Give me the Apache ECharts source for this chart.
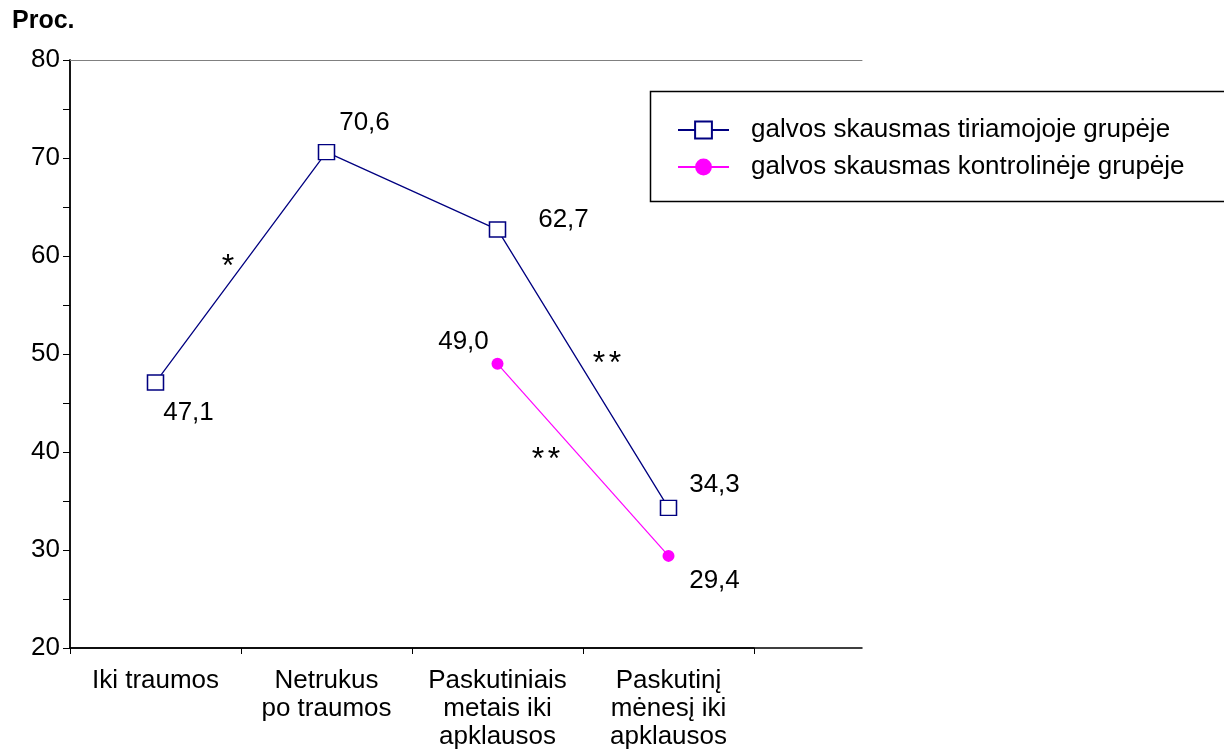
<!DOCTYPE html>
<html>
<head>
<meta charset="utf-8">
<script src="https://cdn.jsdelivr.net/npm/echarts@6.0.0/dist/echarts.min.js"></script>
<style>
  html, body { margin: 0; padding: 0; background: #fff; }
  #chart { width: 1224px; height: 751px; }
</style>
</head>
<body>
<div id="chart"></div>
<script>
// data
const categories = [
  'Iki traumos',
  'Netrukus\npo traumos',
  'Paskutiniais\nmetais iki\napklausos',
  'Paskutinį\nmėnesį iki\napklausos'
]
const studyGroup = [47.1, 70.6, 62.7, 34.3]
const controlGroup = [null, null, 49.0, 29.4]
const seriesNames = [
  'galvos skausmas tiriamojoje grupėje',
  'galvos skausmas kontrolinėje grupėje'
]
const yMin = 20
const yMax = 80
const yStep = 10
const yAxisTitle = 'Proc.'

const FONT = '"Liberation Sans", Arial, sans-serif'
const NAVY = '#000080'
const MAGENTA = '#ff00ff'
const FS = 26

// label placement around each point
const studyOffsets = [[33, 30], [38, -29], [66, -10], [46, -23]]
const controlOffsets = [null, null, [-34, -22], [46, 25]]

const fmt = v => v.toFixed(1).replace('.', ',')

function withLabels(values, offsets) {
  return values.map((v, i) => {
    if (v === null) return '-'
    return {
      value: v,
      label: { offset: offsets[i] }
    }
  })
}

// significance marks (annotations)
function star(x, y) {
  return {
    type: 'text', x: x, y: y, z: 5,
    style: { text: '*', font: '32px ' + FONT, fill: '#000', align: 'center', verticalAlign: 'middle' }
  }
}

const chart = echarts.init(document.getElementById('chart'))

const hiddenAxis = {
  axisLabel: { show: false },
  axisTick: { show: false },
  splitLine: { show: false }
}

const option = {
  animation: false,
  backgroundColor: '#fff',
  title: {
    text: yAxisTitle,
    left: 7,
    top: 4,
    textStyle: { fontFamily: FONT, fontSize: 25, fontWeight: 'bold', color: '#000' }
  },
  grid: [
    { left: 70, right: 470, top: 60, bottom: 103 },
    { left: 70, right: 362, top: 60, bottom: 103 }
  ],
  xAxis: [
    {
      type: 'category',
      gridIndex: 0,
      data: categories,
      boundaryGap: true,
      axisLine: { show: true, lineStyle: { color: '#000', width: 1.5 } },
      axisTick: { show: true, length: 6, lineStyle: { color: '#000' } },
      axisLabel: {
        interval: 0,
        margin: 19,
        fontFamily: FONT,
        fontSize: FS,
        lineHeight: 28,
        color: '#000',
        align: 'center'
      }
    },
    {
      type: 'value',
      gridIndex: 1,
      min: 0,
      max: 1,
      position: 'bottom',
      axisLine: { show: true, lineStyle: { color: '#000', width: 1.5 } },
      ...hiddenAxis
    },
    {
      type: 'value',
      gridIndex: 1,
      min: 0,
      max: 1,
      position: 'top',
      axisLine: { show: true, lineStyle: { color: '#808080', width: 1 } },
      ...hiddenAxis
    }
  ],
  yAxis: [
    {
      type: 'value',
      gridIndex: 0,
      min: yMin,
      max: yMax,
      interval: yStep,
      axisLine: { show: true, lineStyle: { color: '#222', width: 1.5 } },
      axisTick: { show: true, length: 7, lineStyle: { color: '#000' } },
      minorTick: { show: true, splitNumber: 2, length: 7, lineStyle: { color: '#000' } },
      splitLine: { show: false },
      axisLabel: { margin: 10, fontFamily: FONT, fontSize: FS, color: '#000' }
    },
    {
      type: 'value',
      gridIndex: 1,
      min: 0,
      max: 1,
      position: 'right',
      axisLine: { show: true, lineStyle: { color: '#000', width: 1.5 } },
      ...hiddenAxis
    }
  ],
  legend: {
    orient: 'vertical',
    left: 672,
    top: 112,
    itemWidth: 51,
    itemHeight: 21,
    itemGap: 11,
    z: 20,
    data: seriesNames,
    textStyle: {
      fontFamily: FONT,
      fontSize: FS,
      color: '#000',
      padding: [0, 0, 0, 17]
    }
  },
  graphic: [
    {
      type: 'rect',
      z: 10,
      shape: { x: 650.5, y: 91.5, width: 700, height: 110 },
      style: { fill: '#fff', stroke: '#000', lineWidth: 1.5 }
    },
    star(228, 267),
    star(599, 364),
    star(615, 364),
    star(538, 460),
    star(554, 460)
  ],
  series: [
    {
      name: seriesNames[0],
      type: 'line',
      xAxisIndex: 0,
      yAxisIndex: 0,
      data: withLabels(studyGroup, studyOffsets),
      symbol: 'rect',
      symbolSize: [16, 15],
      lineStyle: { color: NAVY, width: 1.3 },
      itemStyle: { color: '#fff', borderColor: NAVY, borderWidth: 1.5 },
      label: {
        show: true,
        position: 'inside',
        formatter: p => fmt(p.value),
        fontFamily: FONT,
        fontSize: FS,
        color: '#000'
      }
    },
    {
      name: seriesNames[1],
      type: 'line',
      xAxisIndex: 0,
      yAxisIndex: 0,
      data: withLabels(controlGroup, controlOffsets),
      symbol: 'circle',
      symbolSize: 12,
      lineStyle: { color: MAGENTA, width: 1.2 },
      itemStyle: { color: MAGENTA, borderColor: MAGENTA, borderWidth: 0 },
      label: {
        show: true,
        position: 'inside',
        formatter: p => fmt(p.value),
        fontFamily: FONT,
        fontSize: FS,
        color: '#000'
      }
    }
  ]
}

chart.setOption(option)
</script>
</body>
</html>
